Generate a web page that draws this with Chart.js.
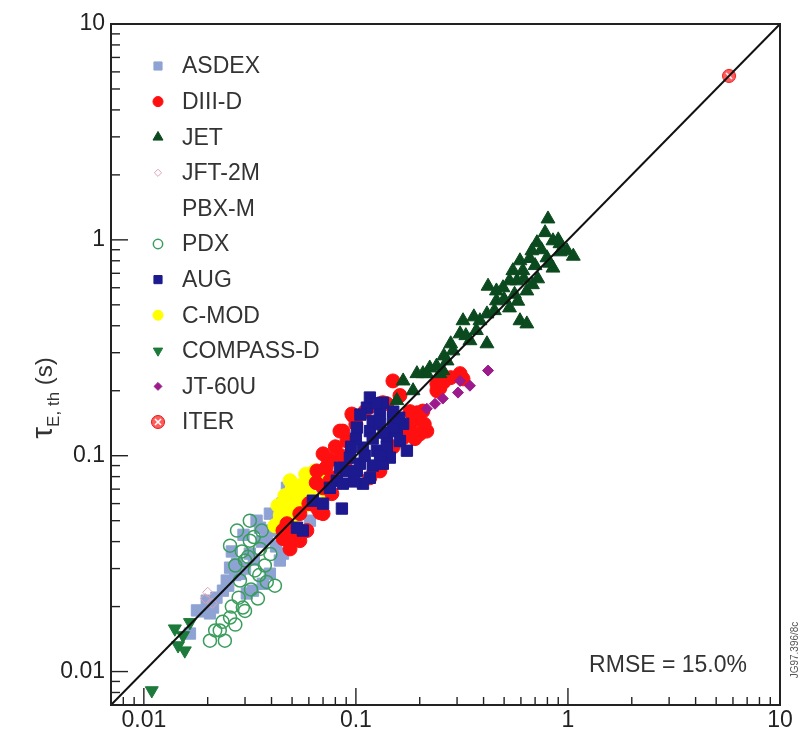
<!DOCTYPE html>
<html>
<head>
<meta charset="utf-8">
<script src="https://cdn.jsdelivr.net/npm/chart.js@4.4.1/dist/chart.umd.min.js"></script>
<style>
  html, body { margin: 0; padding: 0; background: #fff; }
  #wrap { width: 800px; height: 734px; }
</style>
</head>
<body>
<div id="wrap"><canvas id="tau"></canvas></div>
<script>
// axis range and ticks (both axes log, same range)
const axisMin = 0.007;
const axisMax = 10;
const majorTicks = [0.01, 0.1, 1, 10];
const majorLabels = ["0.01", "0.1", "1", "10"];
const minorSteps = [2, 3, 4, 5, 6, 7, 8, 9];
const lowMinor = [0.008, 0.009];

const asdex = [[0.0393,0.0539],[0.0353,0.0464],[0.038,0.0417],[0.0316,0.0352],[0.0275,0.0316],[0.0255,0.0303],
  [0.0284,0.0284],[0.0246,0.0264],[0.0236,0.0237],[0.0198,0.0213],[0.0205,0.0186],[0.0165,0.015],[0.0178,0.0192],
  [0.0438,0.0327],[0.0453,0.0352],[0.0393,0.0284],[0.0364,0.0255],[0.0327,0.0237],[0.0473,0.0417],[0.0424,0.0516],
  [0.0473,0.071],[0.0527,0.0574],[0.0607,0.05],[0.0306,0.023],[0.0212,0.0198],[0.0295,0.043],[0.034,0.05],[0.026,0.036],
  [0.05,0.06],[0.045,0.06],[0.04,0.045],[0.036,0.04],[0.033,0.033],[0.03,0.03],[0.027,0.028],[0.025,0.025],
  [0.022,0.022],[0.019,0.019],[0.042,0.038],[0.048,0.05],[0.055,0.065]];
const diiid = [[0.1495,0.222],[0.1613,0.19],[0.134,0.176],[0.0968,0.153],[0.0868,0.13],[0.0907,0.117],[0.07,0.102],
  [0.0738,0.0968],[0.0655,0.085],[0.0723,0.088],[0.0796,0.079],[0.07,0.071],[0.077,0.0667],[0.0676,0.0545],
  [0.0544,0.0539],[0.0489,0.037],[0.0453,0.045],[0.0587,0.045],[0.194,0.158],[0.196,0.148],[0.18,0.138],
  [0.167,0.121],[0.1298,0.085],[0.1164,0.079],[0.31,0.24],[0.32,0.227],[0.249,0.206],[0.241,0.215],[0.216,0.13],
  [0.2,0.126],[0.0957,0.156],[0.0841,0.13],[0.0754,0.0766],[0.07,0.0539],[0.0655,0.0574],[0.0473,0.0484],
  [0.0453,0.0413],[0.14,0.174],[0.207,0.161],[0.241,0.2],[0.0544,0.0404],
  [0.11,0.16],[0.12,0.17],[0.1,0.14],[0.08,0.11],[0.085,0.1],[0.09,0.095],[0.075,0.095],[0.065,0.075],
  [0.06,0.06],[0.05,0.042],[0.26,0.22],[0.28,0.23],[0.18,0.16],[0.17,0.13],[0.15,0.11],[0.21,0.14],[0.19,0.12]];
const jet = [[0.805,1.25],[0.85,0.99],[0.917,0.96],[0.99,0.89],[0.714,0.97],[0.676,0.89],[0.594,0.80],[0.613,0.72],
  [0.575,0.646],[0.85,0.74],[0.796,0.826],[0.64,0.58],[0.494,0.60],[0.42,0.61],[0.46,0.522],[0.53,0.484],
  [0.594,0.422],[0.64,0.408],[0.415,0.454],[0.3845,0.422],[0.32,0.422],[0.31,0.367],[0.345,0.341],[0.415,0.33],
  [0.287,0.306],[0.269,0.275],[0.223,0.255],[0.207,0.24],[0.249,0.24],[0.167,0.222],[0.194,0.24],[0.257,0.248],
  [0.216,0.24],[0.186,0.2],[0.156,0.18],[1.06,0.84],[0.78,1.08],[0.70,0.76],[0.53,0.646],
  [0.9,1.0],[0.75,0.9],[0.66,0.82],[0.62,0.66],[0.56,0.56],[0.5,0.53],[0.45,0.47],[0.37,0.38],[0.36,0.44],
  [0.33,0.36],[0.28,0.33],[0.26,0.29],[0.24,0.26],[0.72,0.66],[0.68,0.62],[0.55,0.72],[0.46,0.58],[0.92,0.88],
  [0.82,0.78],[0.58,0.52]];
const jft2m = [[0.0195,0.0218],[0.021,0.0207],[0.020,0.0233]];
const pbxm = [];
const pdx = [[0.0275,0.045],[0.0316,0.0404],[0.0353,0.037],[0.030,0.0327],[0.0334,0.0294],[0.0284,0.0264],
  [0.0372,0.031],[0.0255,0.0383],[0.0316,0.05],[0.0415,0.025],[0.0345,0.0218],[0.030,0.0191],[0.0293,0.0198],
  [0.0255,0.0178],[0.0228,0.0155],[0.0241,0.0139],[0.0205,0.0139],[0.0217,0.0155],[0.027,0.0165],[0.0395,0.035],
  [0.033,0.042],[0.036,0.045],[0.029,0.036],[0.031,0.034],[0.035,0.028],[0.038,0.026],[0.027,0.031],[0.032,0.024],
  [0.028,0.022],[0.026,0.02],[0.0235,0.017]];
const aug = [[0.1127,0.167],[0.1298,0.1565],[0.1495,0.15],[0.167,0.1406],[0.101,0.135],[0.1164,0.13],[0.14,0.121],
  [0.1613,0.117],[0.108,0.109],[0.1256,0.1055],[0.1446,0.098],[0.0937,0.098],[0.0841,0.088],[0.101,0.085],
  [0.1164,0.079],[0.0813,0.0766],[0.0754,0.071],[0.0868,0.0742],[0.1044,0.0918],[0.134,0.0918],[0.156,0.13],
  [0.174,0.1055],[0.12,0.145],[0.0859,0.0569],[0.0627,0.0619],[0.0562,0.045],[0.0527,0.0464],[0.07,0.06],
  [0.1164,0.186],[0.134,0.176],[0.108,0.0742],
  [0.13,0.14],[0.15,0.135],[0.12,0.12],[0.14,0.11],[0.1,0.12],[0.11,0.1],[0.095,0.11],[0.09,0.085],[0.13,0.1],
  [0.16,0.15],[0.15,0.16],[0.125,0.175],[0.105,0.155],[0.12,0.09],[0.135,0.128],[0.098,0.076]];
const cmod = [[0.0489,0.0766],[0.0544,0.0726],[0.0607,0.075],[0.0676,0.078],[0.0462,0.0653],[0.0532,0.0619],
  [0.0607,0.0653],[0.0429,0.0587],[0.0489,0.0556],[0.0575,0.0587],[0.0415,0.0474],[0.0453,0.0459],[0.0438,0.05],
  [0.0516,0.0528],[0.064,0.085],[0.0714,0.0689],[0.058,0.082],[0.05,0.07],[0.047,0.06],[0.056,0.068],[0.044,0.053]];
const compassd = [[0.014,0.0158],[0.0153,0.0147],[0.0145,0.0132],[0.0156,0.0125],[0.0165,0.0169],[0.0109,0.00817]];
const jt60u = [[0.236,0.174],[0.257,0.184],[0.303,0.196],[0.31,0.222],[0.42,0.248],[0.345,0.211],[0.216,0.165]];
const iter = [[5.75,5.75]];
const unityLine = [0.007, 10];

const FONT = "'Liberation Sans', Arial, Helvetica, sans-serif";

function pts(arr) { return arr.map(p => ({ x: p[0], y: p[1] })); }
function isMajor(v) { const l = Math.log10(v); return Math.abs(l - Math.round(l)) < 1e-6; }

const tickValues = lowMinor.slice();
majorTicks.forEach(m => {
  tickValues.push(m);
  if (m < axisMax) minorSteps.forEach(s => tickValues.push(m * s));
});

function iterMarker() {
  const c = document.createElement("canvas");
  c.width = 16; c.height = 16;
  const g = c.getContext("2d");
  g.fillStyle = "#ff5c5c";
  g.beginPath(); g.arc(8, 8, 6.5, 0, 2 * Math.PI); g.fill();
  g.strokeStyle = "#e01818"; g.lineWidth = 1; g.stroke();
  g.strokeStyle = "#ffffff"; g.lineWidth = 1.6;
  g.beginPath(); g.moveTo(5, 5); g.lineTo(11, 11); g.moveTo(11, 5); g.lineTo(5, 11); g.stroke();
  return c;
}

function series(label, data, style, fill, border, radius, order, extra) {
  return Object.assign({
    type: "scatter", label: label, data: pts(data),
    pointStyle: style, backgroundColor: fill, borderColor: border,
    borderWidth: 1, pointRadius: radius, order: order
  }, extra || {});
}

const datasets = [
  { type: "line", label: "unity", data: unityLine.map(v => ({ x: v, y: v })),
    borderColor: "#111", borderWidth: 2, pointRadius: 0, fill: false, order: 0 },
  series("ITER", iter, iterMarker(), "#ff5c5c", "#e01818", 8, 1),
  series("JET", jet, "triangle", "#0b4a1e", "#0b4a1e", 8, 2),
  series("JT-60U", jt60u, "rectRot", "#9c1a8c", "#9c1a8c", 5.5, 3),
  series("AUG", aug, "rect", "#1c1a8e", "#1c1a8e", 8, 4),
  series("DIII-D", diiid, "circle", "#ff1010", "#ff1010", 7, 5),
  series("C-MOD", cmod, "circle", "#ffff00", "#ffff00", 7, 6),
  series("COMPASS-D", compassd, "triangle", "#1c7a3a", "#1c7a3a", 7.5, 7, { rotation: 180 }),
  series("PDX", pdx, "circle", "rgba(0,0,0,0)", "#3a9d5d", 6.5, 8, { borderWidth: 1.5 }),
  series("PBX-M", pbxm, "circle", "#ffffff", "#ffffff", 5, 9),
  series("JFT-2M", jft2m, "rectRot", "rgba(0,0,0,0)", "#e3a0b8", 5, 10),
  series("ASDEX", asdex, "rect", "#8ea3d3", "#8ea3d3", 8, 11)
];

const legendOrder = ["ASDEX", "DIII-D", "JET", "JFT-2M", "PBX-M", "PDX", "AUG", "C-MOD", "COMPASS-D", "JT-60U", "ITER"];

const decorations = {
  id: "decorations",
  afterDatasetsDraw(chart) {
    const { ctx, chartArea: a, scales } = chart;
    const xs = scales.x, ys = scales.y;
    ctx.save();
    ctx.strokeStyle = "#222";
    ctx.lineWidth = 1.4;
    xs.ticks.forEach(t => {
      const px = xs.getPixelForValue(t.value);
      const len = isMajor(t.value) ? 17 : 8;
      ctx.beginPath(); ctx.moveTo(px, a.bottom); ctx.lineTo(px, a.bottom - len); ctx.stroke();
    });
    ys.ticks.forEach(t => {
      const py = ys.getPixelForValue(t.value);
      const len = isMajor(t.value) ? 17 : 9;
      ctx.beginPath(); ctx.moveTo(a.left, py); ctx.lineTo(a.left + len, py); ctx.stroke();
    });
    ctx.lineWidth = 2;
    ctx.strokeRect(a.left, a.top, a.right - a.left, a.bottom - a.top);
    ctx.restore();
  },
  afterDraw(chart) {
    const { ctx } = chart;
    ctx.save();
    // legend inside plot
    let rowY = 66;
    legendOrder.forEach(name => {
      const ds = chart.data.datasets.find(d => d.label === name);
      if (name !== "PBX-M") {
        ctx.fillStyle = ds.backgroundColor;
        ctx.strokeStyle = ds.borderColor;
        ctx.lineWidth = ds.borderWidth;
        Chart.helpers.drawPoint(ctx, {
          pointStyle: ds.pointStyle, rotation: ds.rotation || 0,
          radius: ds.pointStyle instanceof HTMLCanvasElement ? 6 : ds.pointRadius * 0.72,
          borderWidth: ds.borderWidth
        }, 158, rowY);
      }
      ctx.fillStyle = "#333";
      ctx.font = "23px " + FONT;
      ctx.textAlign = "left";
      ctx.textBaseline = "middle";
      ctx.fillText(name, 182, rowY + 1);
      rowY += 35.6;
    });
    // RMSE note
    ctx.fillStyle = "#333";
    ctx.font = "23px " + FONT;
    ctx.textAlign = "right";
    ctx.textBaseline = "alphabetic";
    ctx.fillText("RMSE = 15.0%", 747, 672);
    // y title with subscript
    ctx.translate(44, 398);
    ctx.rotate(-Math.PI / 2);
    ctx.fillStyle = "#333";
    ctx.textAlign = "left";
    const parts = [["τ", 30, 0], ["E, th", 17, 7], [" (s)", 24, 0]];
    let w = 0;
    parts.forEach(p => { ctx.font = p[1] + "px " + FONT; w += ctx.measureText(p[0]).width; });
    let cx = -w / 2;
    parts.forEach(p => {
      ctx.font = p[1] + "px " + FONT;
      ctx.fillText(p[0], cx, 8 + p[2]);
      cx += ctx.measureText(p[0]).width;
    });
    ctx.restore();
    // figure code at right edge
    ctx.save();
    ctx.translate(795, 650);
    ctx.rotate(-Math.PI / 2);
    ctx.fillStyle = "#555";
    ctx.font = "10px " + FONT;
    ctx.textAlign = "center";
    ctx.textBaseline = "middle";
    ctx.fillText("JG97.396/8c", 0, 0);
    ctx.restore();
  }
};

function logAxis(extra) {
  return Object.assign({
    type: "logarithmic",
    min: axisMin,
    max: axisMax,
    grid: { display: false, drawTicks: false },
    border: { display: false },
    afterBuildTicks: s => { s.ticks = tickValues.map(v => ({ value: v })); },
    ticks: {
      autoSkip: false,
      maxRotation: 0,
      color: "#222",
      font: { family: FONT, size: 23 },
      callback: v => {
        const i = majorTicks.findIndex(m => Math.abs(m - v) / m < 1e-6);
        return i >= 0 ? majorLabels[i] : "";
      }
    }
  }, extra);
}

new Chart(document.getElementById("tau"), {
  data: { datasets: datasets },
  options: {
    responsive: true,
    maintainAspectRatio: false,
    animation: false,
    events: [],
    layout: { padding: { top: 24, right: 20, left: 0, bottom: 0 } },
    plugins: { legend: { display: false }, tooltip: { enabled: false } },
    scales: {
      x: logAxis({ position: "bottom", afterFit: s => { s.height = 29; },
        ticks: Object.assign({}, logAxis({}).ticks, { padding: 2 }) }),
      y: logAxis({ position: "left", afterFit: s => { s.width = 111; },
        ticks: Object.assign({}, logAxis({}).ticks, { padding: 6 }) })
    }
  },
  plugins: [decorations]
});
</script>
</body>
</html>
